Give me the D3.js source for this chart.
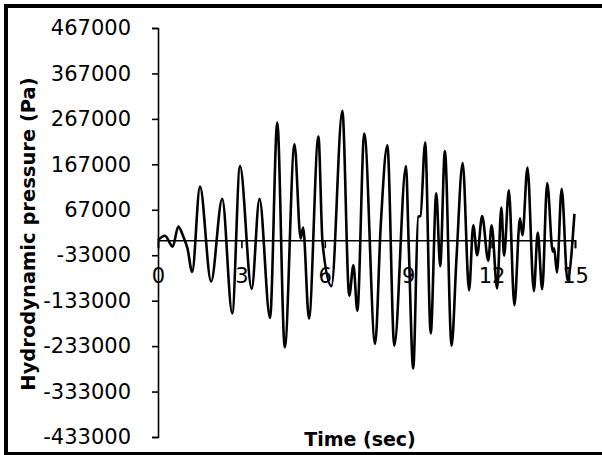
<!DOCTYPE html>
<html>
<head>
<meta charset="utf-8">
<script src="https://cdnjs.cloudflare.com/ajax/libs/d3/7.8.5/d3.min.js"></script>
<style>
  body { margin: 0; background: #ffffff; }
</style>
</head>
<body>
<script>
// DATA
var timeSec = [0, 0.25, 0.53, 0.73, 0.91, 1.06, 1.23, 1.51, 1.91, 2.31, 2.67, 2.95, 3.37, 3.65,
  4.03, 4.29, 4.56, 4.91, 5.13, 5.22, 5.43, 5.77, 5.92, 6.24, 6.63, 6.88, 7.03, 7.17, 7.42,
  7.81, 8.01, 8.25, 8.5, 8.92, 9.02, 9.18, 9.36, 9.44, 9.61, 9.81, 10.01, 10.15, 10.32, 10.56,
  10.74, 10.96, 11.19, 11.34, 11.48, 11.66, 11.88, 12.0, 12.2, 12.35, 12.45, 12.62, 12.82,
  13.02, 13.11, 13.29, 13.52, 13.66, 13.82, 14.0, 14.2, 14.25, 14.35, 14.52, 14.73, 14.98];
var pressurePa = [0, 10000, -14000, 30000, 8000, -18000, -70000, 118000, -91000, 91000, -161000, 163000, -107000, 91000,
  -171000, 259000, -236000, 211000, 4000, 28000, -172000, 228000, -7000, -101000, 285000, -122000, -55000, -155000, 235000,
  -228000, 30000, 209000, -232000, 163000, -14000, -282000, 52000, 53000, 215000, -205000, 103000, -57000, 196000, -232000,
  -36000, 170000, -110000, 33000, -33000, 53000, -45000, 33000, -106000, 72000, -34000, 110000, -143000,
  48000, 11000, 160000, -112000, 17000, -108000, 126000, -25000, -18000, -71000, 113000, -88000, 58000];
var yTicks = [467000, 367000, 267000, 167000, 67000, -33000, -133000, -233000, -333000, -433000];
var xTicks = [0, 3, 6, 9, 12, 15];

var w = 602;
var h = 455;

var svg = d3.select("body").append("svg").attr("width", w).attr("height", h);

// outer frame (right edge runs off the picture)
svg.append("rect")
  .attr("x", 6).attr("y", 6)
  .attr("width", 604).attr("height", 448)
  .attr("fill", "none")
  .attr("stroke", "#000")
  .attr("stroke-width", 4);

// SCALES
var xScale = d3.scaleLinear().domain([0, 15]).range([158, 575]);
var yScale = d3.scaleLinear().domain([-433000, 467000]).range([437, 28]);

// y-axis
var yAxis = svg.append("g")
  .attr("transform", "translate(158,0)")
  .call(d3.axisLeft(yScale)
    .tickValues(yTicks)
    .tickSize(6)
    .tickPadding(21)
    .tickFormat(function (d) { return String(d); }));

// x-axis sits on zero
var xAxis = svg.append("g")
  .attr("transform", "translate(0," + yScale(0) + ")")
  .call(d3.axisBottom(xScale)
    .tickValues(xTicks)
    .tickSize(8)
    .tickPadding(20)
    .tickFormat(function (d) { return String(d); }));

[yAxis, xAxis].forEach(function (g) {
  g.attr("font-family", "DejaVu Sans").attr("font-size", 21);
  g.selectAll("path, line").attr("stroke", "#000").attr("stroke-width", 1.6);
  g.selectAll("text").attr("fill", "#000");
});

// the pressure line
var pts = timeSec.map(function (t, i) { return [t, pressurePa[i]]; });
var line = d3.line()
  .x(function (d) { return xScale(d[0]); })
  .y(function (d) { return yScale(d[1]); })
  .curve(d3.curveMonotoneX);

svg.append("path")
  .datum(pts)
  .attr("d", line)
  .attr("fill", "none")
  .attr("stroke", "#000")
  .attr("stroke-width", 2.6)
  .attr("stroke-linejoin", "round");

// axis titles
svg.append("text")
  .attr("transform", "translate(28,234) rotate(-90)")
  .attr("dy", "0.36em")
  .attr("text-anchor", "middle")
  .attr("font-family", "DejaVu Sans")
  .attr("font-weight", "bold")
  .attr("font-size", 19.5)
  .text("Hydrodynamic pressure (Pa)");

svg.append("text")
  .attr("x", 360)
  .attr("y", 446)
  .attr("text-anchor", "middle")
  .attr("font-family", "DejaVu Sans")
  .attr("font-weight", "bold")
  .attr("font-size", 19)
  .text("Time (sec)");
</script>
</body>
</html>
